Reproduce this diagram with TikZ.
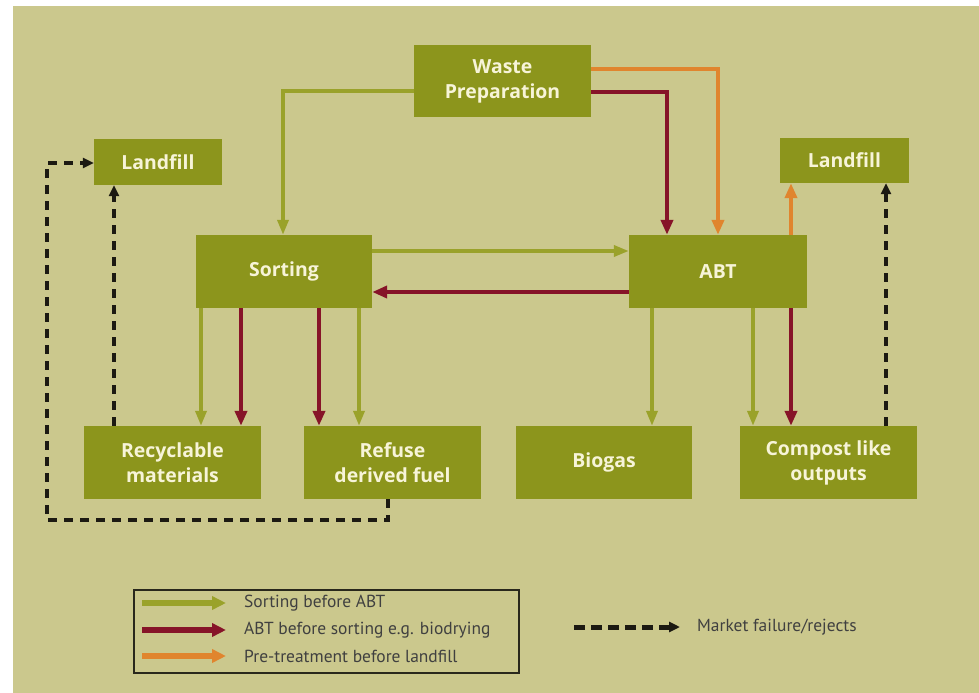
\documentclass[tikz,border=0pt]{standalone}
\usepackage{fontspec}
\setmainfont{Open Sans}
\newfontfamily\legfont{PT Sans}
\usetikzlibrary{arrows.meta,calc}
\definecolor{bgk}{HTML}{CBC88D}
\definecolor{boxol}{HTML}{8C951C}
\definecolor{arrg}{HTML}{9AA22A}
\definecolor{arrr}{HTML}{861428}
\definecolor{arro}{HTML}{E0852E}
\definecolor{txtc}{HTML}{F7F4D8}
\definecolor{dashk}{HTML}{1C1A12}
\tikzset{
  box/.style={fill=boxol, draw=none, text=txtc, align=center, inner sep=0pt,
    font=\fontsize{19.5}{25}\selectfont\bfseries},
  garr/.style={draw=arrg, line width=3.5bp, -{Triangle[length=15bp,width=11bp]}},
  rarr/.style={draw=arrr, line width=4.5bp, -{Triangle[length=15bp,width=12bp]}},
  oarr/.style={draw=arro, line width=4.5bp, -{Triangle[length=15bp,width=12bp]}},
  darr/.style={draw=dashk, line width=3.5bp, dash pattern=on 9bp off 7bp, -{Triangle[length=11bp,width=10bp]}},
  legarr/.style={line width=6bp, -{Triangle[length=14bp,width=13bp]}},
  legtxt/.style={anchor=west, inner sep=0pt, text=black!75, font=\legfont\fontsize{17.5}{20}\selectfont},
}
\begin{document}
\begin{tikzpicture}[x=1bp,y=-1bp]
\useasboundingbox (0,0) rectangle (979,693);
\fill[white] (0,0) rectangle (979,693);
\fill[bgk] (13,6) rectangle (979,693);

\node[box, minimum width=177bp, minimum height=72bp] (wp) at (502.5,81) {Waste\\Preparation};
\node[box, minimum width=128bp, minimum height=46bp] (lf1) at (158,162) {Landfill};
\node[box, minimum width=129bp, minimum height=45bp] (lf2) at (844.5,160.5) {Landfill};
\node[box, minimum width=176bp, minimum height=73bp] (sort) at (284,271.5) {Sorting};
\node[box, minimum width=178bp, minimum height=73bp] (abt) at (718,271.5) {ABT};
\node[box, minimum width=177bp, minimum height=73bp] (rec) at (172.5,462.5) {Recyclable\\materials};
\node[box, minimum width=177bp, minimum height=73bp] (rdf) at (392.5,462.5) {Refuse\\derived fuel};
\node[box, minimum width=176bp, minimum height=73bp] (bio) at (604,462.5) {Biogas};
\node[box, minimum width=177bp, minimum height=73bp] (comp) at (828.5,462.5) {Compost like\\outputs};

% Waste preparation outputs
\draw[garr] (wp.west |- 0,91) -| (283,0 |- sort.north);
\draw[oarr] (wp.east |- 0,69) -| (718,0 |- abt.north);
\draw[rarr] (wp.east |- 0,92) -| (667,0 |- abt.north);
% Sorting <-> ABT
\draw[garr] (sort.east |- 0,251) -- (abt.west |- 0,251);
\draw[rarr] (abt.west |- 0,292) -- (sort.east |- 0,292);
% ABT -> landfill
\draw[oarr] (791,0 |- abt.north) -- (791,0 |- lf2.south);
% Sorting outputs
\draw[garr] (201,0 |- sort.south) -- (201,0 |- rec.north);
\draw[rarr] (241,0 |- sort.south) -- (241,0 |- rec.north);
\draw[rarr] (319,0 |- sort.south) -- (319,0 |- rdf.north);
\draw[garr] (359,0 |- sort.south) -- (359,0 |- rdf.north);
% ABT outputs
\draw[garr] (652,0 |- abt.south) -- (652,0 |- bio.north);
\draw[garr] (753,0 |- abt.south) -- (753,0 |- comp.north);
\draw[rarr] (791,0 |- abt.south) -- (791,0 |- comp.north);
% market failure
\draw[darr] (114,0 |- rec.north) -- (114,0 |- lf1.south);
\draw[darr] (388,0 |- rdf.south) |- (47,520) |- (lf1.west |- 0,163);
\draw[darr] (886,0 |- comp.north) -- (886,0 |- lf2.south);

% legend
\node[draw=black!80!bgk, line width=2bp, minimum width=385bp, minimum height=83bp, inner sep=0pt] (leg) at (326.5,631.5) {};
\coordinate (l1a) at (142,603); \coordinate (l1b) at (226,603);
\coordinate (l2a) at (142,630); \coordinate (l2b) at (226,630);
\coordinate (l3a) at (142,656); \coordinate (l3b) at (226,656);
\draw[legarr, draw=arrg] (l1a) -- (l1b);
\draw[legarr, draw=arrr] (l2a) -- (l2b);
\draw[legarr, draw=arro] (l3a) -- (l3b);
\node[legtxt] (t1) at (244,603) {Sorting before ABT};
\node[legtxt] (t2) at (244,630) {ABT before sorting e.g. biodrying};
\node[legtxt] (t3) at (244,656) {Pre-treatment before landfill};
\coordinate (m1) at (574,627); \coordinate (m2) at (680,627);
\draw[darr, line width=5bp, dash pattern=on 11bp off 6bp] (m1) -- (m2);
\node[legtxt] (t4) at (697,627) {Market failure/rejects};
\end{tikzpicture}
\end{document}
